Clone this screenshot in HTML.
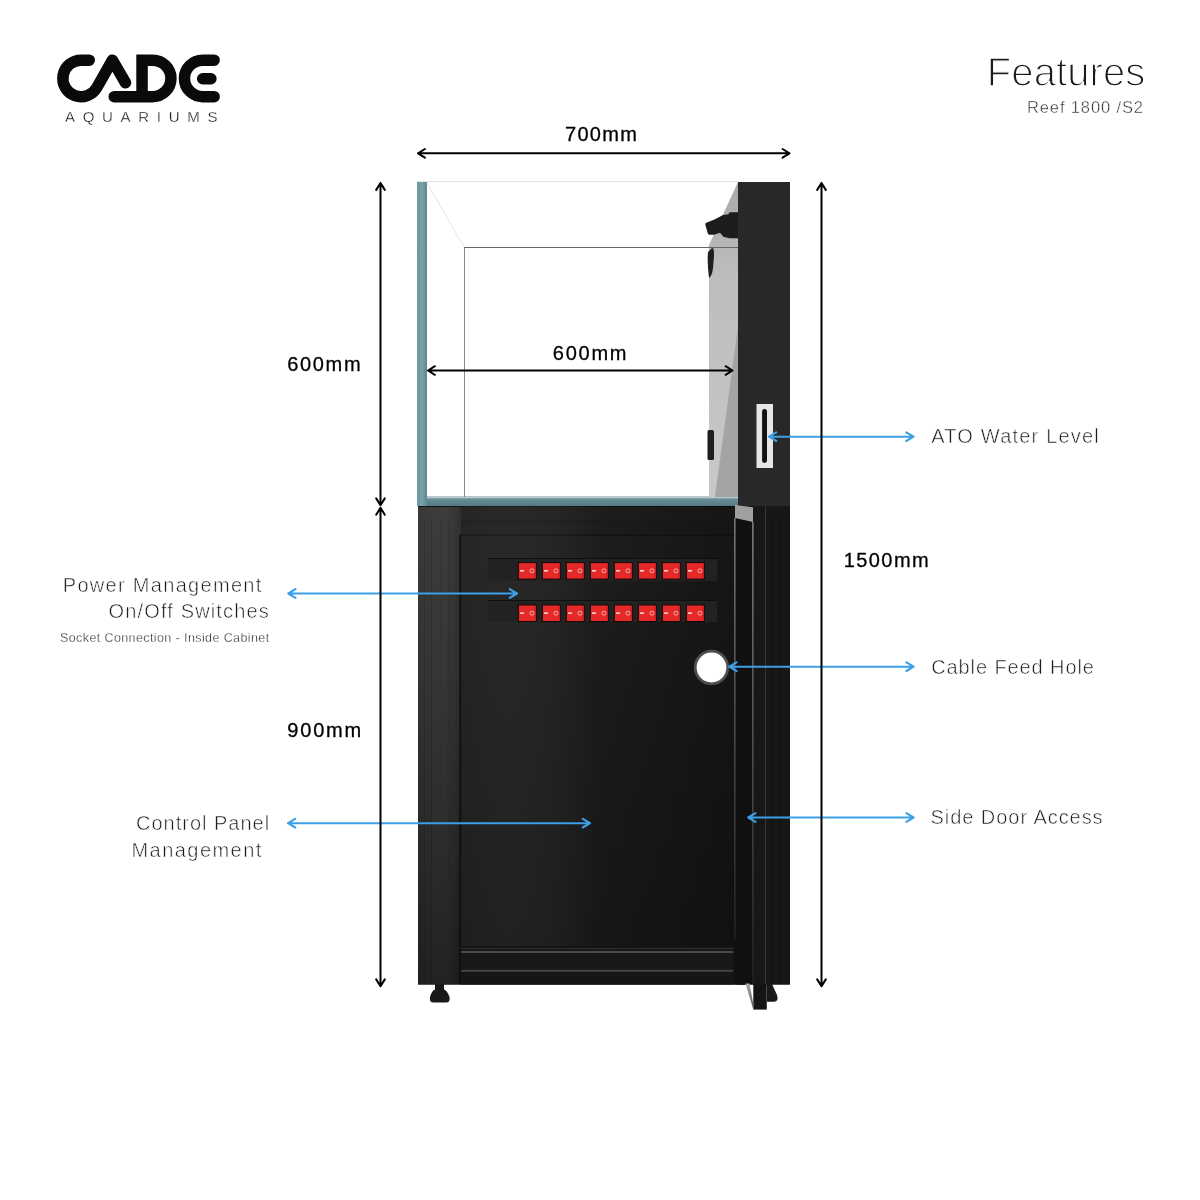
<!DOCTYPE html>
<html>
<head>
<meta charset="utf-8">
<style>
html,body{margin:0;padding:0;background:#fff;width:1200px;height:1200px;overflow:hidden;}
svg{position:absolute;left:0;top:0;display:block;will-change:transform;}
text{font-family:"Liberation Sans",sans-serif;}
</style>
</head>
<body>
<svg width="1200" height="1200" viewBox="0 0 1200 1200">
<defs>
  <linearGradient id="postL" x1="0" y1="0" x2="0" y2="1">
    <stop offset="0" stop-color="#353535"/>
    <stop offset="0.35" stop-color="#2e2e2e"/>
    <stop offset="0.7" stop-color="#242424"/>
    <stop offset="1" stop-color="#1a1a1a"/>
  </linearGradient>
  <linearGradient id="postLh" x1="0" y1="0" x2="1" y2="0">
    <stop offset="0" stop-color="#fff" stop-opacity="0.02"/>
    <stop offset="0.5" stop-color="#fff" stop-opacity="0.04"/>
    <stop offset="1" stop-color="#000" stop-opacity="0.1"/>
  </linearGradient>
  <linearGradient id="teal" x1="0" y1="0" x2="1" y2="0">
    <stop offset="0" stop-color="#6f98a2"/>
    <stop offset="0.5" stop-color="#77a0a9"/>
    <stop offset="1" stop-color="#5e8691"/>
  </linearGradient>
  <linearGradient id="wall" x1="0" y1="0" x2="0" y2="1">
    <stop offset="0" stop-color="#a9a9a9"/>
    <stop offset="0.3" stop-color="#bdbdbd"/>
    <stop offset="1" stop-color="#c8c8c8"/>
  </linearGradient>
  <linearGradient id="postR" x1="0" y1="0" x2="0" y2="1">
    <stop offset="0" stop-color="#1a1a1a"/>
    <stop offset="1" stop-color="#151515"/>
  </linearGradient>
  <linearGradient id="postGroove" x1="0" y1="0" x2="1" y2="0">
    <stop offset="0" stop-color="#3a3a3a"/>
    <stop offset="0.5" stop-color="#444"/>
    <stop offset="1" stop-color="#2a2a2a"/>
  </linearGradient>
  <linearGradient id="lineA" x1="0" y1="0" x2="0" y2="1">
    <stop offset="0" stop-color="#8a8a8a"/>
    <stop offset="0.5" stop-color="#555"/>
    <stop offset="1" stop-color="#262626"/>
  </linearGradient>
  <linearGradient id="lineB" x1="0" y1="0" x2="0" y2="1">
    <stop offset="0" stop-color="#909090"/>
    <stop offset="0.5" stop-color="#5a5a5a"/>
    <stop offset="1" stop-color="#222"/>
  </linearGradient>
  <linearGradient id="wedge" x1="0" y1="0" x2="0" y2="1">
    <stop offset="0" stop-color="#aaa"/>
    <stop offset="1" stop-color="#555"/>
  </linearGradient>
  <linearGradient id="tealB" x1="0" y1="0" x2="0" y2="1">
    <stop offset="0" stop-color="#6f949d"/>
    <stop offset="1" stop-color="#557a84"/>
  </linearGradient>
  <linearGradient id="back" x1="0" y1="0" x2="0" y2="1">
    <stop offset="0" stop-color="#212121"/>
    <stop offset="0.5" stop-color="#1d1d1d"/>
    <stop offset="1" stop-color="#191919"/>
  </linearGradient>
  <linearGradient id="backh" x1="0" y1="0" x2="1" y2="0">
    <stop offset="0" stop-color="#fff" stop-opacity="0.02"/>
    <stop offset="0.5" stop-color="#000" stop-opacity="0.12"/>
    <stop offset="1" stop-color="#000" stop-opacity="0.35"/>
  </linearGradient>
</defs>

<!-- ===== LOGO ===== -->
<g fill="none" stroke="#0a0a0a" stroke-width="11.5" stroke-linecap="round" stroke-linejoin="round">
  <path d="M89.25 60.15 H81.1 A18.25 18.25 0 1 0 96.9 87.5 L112.4 60.15 L125.5 82.75"/>
  <path d="M114.25 96.65 H152.7 A18.25 18.25 0 0 0 152.7 60.15 H142.05 V96.65" stroke-linejoin="miter"/>
  <path d="M214.15 60.15 H202.7 A18.25 18.25 0 0 0 202.7 96.65 H214.15"/>
  <path d="M202.7 78.8 H210.9"/>
</g>
<text x="65" y="122" font-size="15" fill="#111" stroke="#fff" stroke-width="0.3" letter-spacing="7.7">AQUARIUMS</text>

<!-- ===== TITLE ===== -->
<text x="986.8" y="85.7" font-size="40" fill="#1a1a1a" stroke="#fff" stroke-width="1.4" letter-spacing="0.1">Features</text>
<text x="1027" y="113" font-size="16.5" fill="#333" stroke="#fff" stroke-width="0.4" letter-spacing="0.87">Reef 1800 /S2</text>

<!-- ===== TANK ===== -->
<g id="tank">
  <line x1="417" y1="181.5" x2="738" y2="181.5" stroke="#e2e2e2" stroke-width="1"/>
  <rect x="417" y="182" width="10" height="324" fill="url(#teal)"/>
  <rect x="427" y="496.5" width="311" height="9.5" fill="url(#tealB)"/>
  <rect x="427" y="496.5" width="311" height="1.8" fill="#b9c9cd"/>
  <line x1="427" y1="183" x2="464" y2="247" stroke="#e4e4e4" stroke-width="1"/>
  <line x1="464.5" y1="247" x2="464.5" y2="497" stroke="#8a8a8a" stroke-width="1"/>
  <polygon points="738,182 709,245 709,497 738,497" fill="url(#wall)"/>
  <polygon points="738,326 738,497 715,497" fill="#a4a4a4"/>
  <line x1="464" y1="247.5" x2="738" y2="247.5" stroke="#606a6a" stroke-width="1"/>
  <!-- pump -->
  <path d="M738 212.3 L729.5 212.3 L728.5 214.3 L723 215 L715 219.3 L705.8 223 Q705 224 705.5 225.5 L708 234 Q708.5 235 710 234.8 L714 234.7 L720 232.7 L723.3 236.7 L729.3 238.3 L738 238.3 Z" fill="#1d1d1d"/>
  <path d="M712 248 Q715 247 713.5 262 Q713 276 709 278 Q707 262 708 252 Z" fill="#1e1e1e"/>
  <rect x="707.5" y="430" width="6.5" height="30" rx="1.5" fill="#1e1e1e"/>
  <rect x="738" y="182" width="52" height="324" fill="#282828"/>
  <!-- ATO -->
  <rect x="756.5" y="404" width="16.5" height="64" fill="#e6e6ea"/>
  <rect x="762.1" y="409" width="4.9" height="54" rx="2.4" fill="#111"/>
</g>
<!-- ===== CABINET ===== -->
<g id="cab">
  <rect x="418" y="506" width="372" height="478.5" fill="#161616"/>
  <!-- left post -->
  <rect x="418" y="506" width="43" height="478.5" fill="url(#postL)"/>
  <rect x="418" y="506" width="43" height="478.5" fill="url(#postLh)"/>
  <g stroke="#000" stroke-width="1" opacity="0.12">
    <line x1="424.5" y1="520" x2="424.5" y2="984"/>
    <line x1="431.5" y1="520" x2="431.5" y2="984"/>
    <line x1="441.5" y1="520" x2="441.5" y2="984"/>
    <line x1="449.5" y1="520" x2="449.5" y2="984"/>
  </g>
  <line x1="460.5" y1="535" x2="460.5" y2="984" stroke="#0c0c0c" stroke-width="2"/>
  <!-- top rails -->
  <rect x="461" y="506" width="274" height="14" fill="#212121"/>
  <line x1="418" y1="506.5" x2="735" y2="506.5" stroke="#151515" stroke-width="1"/>
  <rect x="461" y="520" width="274" height="15" fill="#202020"/>
  <line x1="461" y1="520.5" x2="735" y2="520.5" stroke="#1b1b1b" stroke-width="1"/>
  <line x1="461" y1="535" x2="735" y2="535" stroke="#171717" stroke-width="1.5"/>
  <rect x="461" y="506" width="274" height="30" fill="url(#backh)"/>
  <!-- back -->
  <rect x="461" y="536" width="274" height="412" fill="url(#back)"/>
  <rect x="461" y="536" width="274" height="412" fill="url(#backh)"/>
  <!-- bottom rails -->
  <rect x="461" y="946" width="284" height="38.5" fill="#141414"/>
  <rect x="461" y="948" width="272" height="1.2" fill="#2e2e2e"/>
  <rect x="461" y="951" width="272" height="2" fill="#4a4a4a"/>
  <rect x="461" y="953" width="272" height="17" fill="#181818"/>
  <rect x="461" y="969.8" width="272" height="2" fill="#444"/>
  <rect x="461" y="972" width="272" height="12.5" fill="#151515"/>
  <polygon points="729,928 735,928 745,945 745,984.5 738,984.5 738,945" fill="#111"/>
  <!-- right side: door -->
  <rect x="735" y="506" width="31" height="478.5" fill="#101010"/>
  <rect x="753" y="506" width="12.6" height="478.5" fill="#171717"/>
  <polygon points="735,505 753,507.3 753,522 735,518" fill="#a0a0a0"/>
  <rect x="734.2" y="518" width="1.3" height="422" fill="url(#lineA)"/>
  <rect x="752.2" y="522" width="1.3" height="462" fill="url(#lineB)"/>
  <line x1="765.6" y1="506" x2="765.6" y2="1009" stroke="#363636" stroke-width="1.4"/>
  <!-- right post -->
  <rect x="766.3" y="506" width="23.7" height="478.5" fill="#171717"/>
  <g stroke="#0c0c0c" stroke-width="1" opacity="0.6">
    <line x1="772.5" y1="523" x2="772.5" y2="984"/>
    <line x1="779.5" y1="523" x2="779.5" y2="984"/>
  </g>
  <!-- door bottom -->
  <rect x="753.3" y="984" width="13.4" height="25.6" fill="#141414"/>
  <polygon points="745.5,983.5 749.5,983.5 753.3,1004 753.3,1009.6" fill="url(#wedge)"/>
  <!-- feet -->
  <path d="M435 984 H444 V989.5 Q447 990 449.5 997 Q450.5 1002.5 446 1002.5 H433.5 Q429 1002.5 430 997 Q432 990 435 989.5 Z" fill="#191919"/>
  <path d="M767 984 H772 L777 995 Q779 1001.7 774 1001.7 H767 Z" fill="#191919"/>
  <!-- switch strips -->
  <rect x="488" y="558" width="229" height="23" fill="#222"/>
  <line x1="488" y1="558.5" x2="717" y2="558.5" stroke="#0e0e0e" stroke-width="1"/>
  <rect x="488" y="600" width="229" height="22" fill="#222"/>
  <line x1="488" y1="600.5" x2="717" y2="600.5" stroke="#0e0e0e" stroke-width="1"/>
  <rect x="518.3" y="562.6" width="18" height="16.5" fill="#e62828" stroke="#160606" stroke-width="1"/>
  <rect x="520.1" y="570.0" width="3.8" height="1.5" fill="#fff" opacity="0.9"/>
  <circle cx="531.9" cy="570.8000000000001" r="2" fill="none" stroke="#fff" stroke-width="0.7" opacity="0.8"/>
  <rect x="542.3" y="562.6" width="18" height="16.5" fill="#e62828" stroke="#160606" stroke-width="1"/>
  <rect x="544.1" y="570.0" width="3.8" height="1.5" fill="#fff" opacity="0.9"/>
  <circle cx="555.9" cy="570.8000000000001" r="2" fill="none" stroke="#fff" stroke-width="0.7" opacity="0.8"/>
  <rect x="566.3" y="562.6" width="18" height="16.5" fill="#e62828" stroke="#160606" stroke-width="1"/>
  <rect x="568.1" y="570.0" width="3.8" height="1.5" fill="#fff" opacity="0.9"/>
  <circle cx="579.9" cy="570.8000000000001" r="2" fill="none" stroke="#fff" stroke-width="0.7" opacity="0.8"/>
  <rect x="590.3" y="562.6" width="18" height="16.5" fill="#e62828" stroke="#160606" stroke-width="1"/>
  <rect x="592.1" y="570.0" width="3.8" height="1.5" fill="#fff" opacity="0.9"/>
  <circle cx="603.9" cy="570.8000000000001" r="2" fill="none" stroke="#fff" stroke-width="0.7" opacity="0.8"/>
  <rect x="614.3" y="562.6" width="18" height="16.5" fill="#e62828" stroke="#160606" stroke-width="1"/>
  <rect x="616.1" y="570.0" width="3.8" height="1.5" fill="#fff" opacity="0.9"/>
  <circle cx="627.9" cy="570.8000000000001" r="2" fill="none" stroke="#fff" stroke-width="0.7" opacity="0.8"/>
  <rect x="638.3" y="562.6" width="18" height="16.5" fill="#e62828" stroke="#160606" stroke-width="1"/>
  <rect x="640.1" y="570.0" width="3.8" height="1.5" fill="#fff" opacity="0.9"/>
  <circle cx="651.9" cy="570.8000000000001" r="2" fill="none" stroke="#fff" stroke-width="0.7" opacity="0.8"/>
  <rect x="662.3" y="562.6" width="18" height="16.5" fill="#e62828" stroke="#160606" stroke-width="1"/>
  <rect x="664.1" y="570.0" width="3.8" height="1.5" fill="#fff" opacity="0.9"/>
  <circle cx="675.9" cy="570.8000000000001" r="2" fill="none" stroke="#fff" stroke-width="0.7" opacity="0.8"/>
  <rect x="686.3" y="562.6" width="18" height="16.5" fill="#e62828" stroke="#160606" stroke-width="1"/>
  <rect x="688.1" y="570.0" width="3.8" height="1.5" fill="#fff" opacity="0.9"/>
  <circle cx="699.9" cy="570.8000000000001" r="2" fill="none" stroke="#fff" stroke-width="0.7" opacity="0.8"/>
  <rect x="518.3" y="605" width="18" height="16.5" fill="#e62828" stroke="#160606" stroke-width="1"/>
  <rect x="520.1" y="612.4" width="3.8" height="1.5" fill="#fff" opacity="0.9"/>
  <circle cx="531.9" cy="613.2" r="2" fill="none" stroke="#fff" stroke-width="0.7" opacity="0.8"/>
  <rect x="542.3" y="605" width="18" height="16.5" fill="#e62828" stroke="#160606" stroke-width="1"/>
  <rect x="544.1" y="612.4" width="3.8" height="1.5" fill="#fff" opacity="0.9"/>
  <circle cx="555.9" cy="613.2" r="2" fill="none" stroke="#fff" stroke-width="0.7" opacity="0.8"/>
  <rect x="566.3" y="605" width="18" height="16.5" fill="#e62828" stroke="#160606" stroke-width="1"/>
  <rect x="568.1" y="612.4" width="3.8" height="1.5" fill="#fff" opacity="0.9"/>
  <circle cx="579.9" cy="613.2" r="2" fill="none" stroke="#fff" stroke-width="0.7" opacity="0.8"/>
  <rect x="590.3" y="605" width="18" height="16.5" fill="#e62828" stroke="#160606" stroke-width="1"/>
  <rect x="592.1" y="612.4" width="3.8" height="1.5" fill="#fff" opacity="0.9"/>
  <circle cx="603.9" cy="613.2" r="2" fill="none" stroke="#fff" stroke-width="0.7" opacity="0.8"/>
  <rect x="614.3" y="605" width="18" height="16.5" fill="#e62828" stroke="#160606" stroke-width="1"/>
  <rect x="616.1" y="612.4" width="3.8" height="1.5" fill="#fff" opacity="0.9"/>
  <circle cx="627.9" cy="613.2" r="2" fill="none" stroke="#fff" stroke-width="0.7" opacity="0.8"/>
  <rect x="638.3" y="605" width="18" height="16.5" fill="#e62828" stroke="#160606" stroke-width="1"/>
  <rect x="640.1" y="612.4" width="3.8" height="1.5" fill="#fff" opacity="0.9"/>
  <circle cx="651.9" cy="613.2" r="2" fill="none" stroke="#fff" stroke-width="0.7" opacity="0.8"/>
  <rect x="662.3" y="605" width="18" height="16.5" fill="#e62828" stroke="#160606" stroke-width="1"/>
  <rect x="664.1" y="612.4" width="3.8" height="1.5" fill="#fff" opacity="0.9"/>
  <circle cx="675.9" cy="613.2" r="2" fill="none" stroke="#fff" stroke-width="0.7" opacity="0.8"/>
  <rect x="686.3" y="605" width="18" height="16.5" fill="#e62828" stroke="#160606" stroke-width="1"/>
  <rect x="688.1" y="612.4" width="3.8" height="1.5" fill="#fff" opacity="0.9"/>
  <circle cx="699.9" cy="613.2" r="2" fill="none" stroke="#fff" stroke-width="0.7" opacity="0.8"/>
  <!-- cable hole -->
  <circle cx="711.5" cy="667.5" r="16.3" fill="#fff" stroke="#4e4e4e" stroke-width="2.8"/>
</g>
<!-- ===== BLUE ARROWS ===== -->
<path d="M769 436.7 H913.5 M776.2 432.4 L769 436.7 L776.2 441.0 M906.3 432.4 L913.5 436.7 L906.3 441.0 M288.3 593.5 H517 M295.5 589.2 L288.3 593.5 L295.5 597.8 M509.8 589.2 L517 593.5 L509.8 597.8 M729.3 666.7 H913.6 M736.5 662.4000000000001 L729.3 666.7 L736.5 671.0 M906.4 662.4000000000001 L913.6 666.7 L906.4 671.0 M288 823.2 H590 M295.2 818.9000000000001 L288 823.2 L295.2 827.5 M582.8 818.9000000000001 L590 823.2 L582.8 827.5 M748.3 817.5 H913.6 M755.5 813.2 L748.3 817.5 L755.5 821.8 M906.4 813.2 L913.6 817.5 L906.4 821.8" stroke="#3d9fe6" stroke-width="2.1" fill="none" stroke-linecap="round" stroke-linejoin="round"/>
<!-- ===== DIMENSION ARROWS ===== -->
<g stroke="#000" stroke-width="2" fill="none" stroke-linecap="round" stroke-linejoin="round">
  <path d="M418 153.3 H789.5 M424.9 149.0 L418 153.3 L424.9 157.60000000000002 M782.6 149.0 L789.5 153.3 L782.6 157.60000000000002"/>
  <path d="M428 370.5 H732.5 M434.9 366.2 L428 370.5 L434.9 374.8 M725.6 366.2 L732.5 370.5 L725.6 374.8"/>
  <path d="M380.5 183 V505.3 M376.2 189.9 L380.5 183 L384.8 189.9 M376.2 498.40000000000003 L380.5 505.3 L384.8 498.40000000000003"/>
  <path d="M380.5 507.8 V986.3 M376.2 514.7 L380.5 507.8 L384.8 514.7 M376.2 979.4 L380.5 986.3 L384.8 979.4"/>
  <path d="M821.5 183 V986.3 M817.2 189.9 L821.5 183 L825.8 189.9 M817.2 979.4 L821.5 986.3 L825.8 979.4"/>
</g>
<text x="565" y="140.8" font-size="20" fill="#000" stroke="#000" stroke-width="0.3" letter-spacing="1.3">700mm</text>
<text x="552.8" y="360" font-size="20" fill="#000" stroke="#000" stroke-width="0.3" letter-spacing="1.75">600mm</text>
<text x="287.3" y="371" font-size="20" fill="#000" stroke="#000" stroke-width="0.3" letter-spacing="1.65">600mm</text>
<text x="287.3" y="737.3" font-size="20" fill="#000" stroke="#000" stroke-width="0.3" letter-spacing="1.8">900mm</text>
<text x="843.8" y="566.8" font-size="20" fill="#000" stroke="#000" stroke-width="0.3" letter-spacing="1.4">1500mm</text>

<!-- ===== LABELS ===== -->
<g font-size="20" fill="#1c1c1c" stroke="#fff" stroke-width="0.55">
  <text x="62.8" y="592" letter-spacing="1.3">Power Management</text>
  <text x="108.5" y="618" letter-spacing="1.15">On/Off Switches</text>
  <text x="136" y="830" letter-spacing="1.0">Control Panel</text>
  <text x="131.5" y="857" letter-spacing="1.45">Management</text>
  <text x="931.2" y="443.4" letter-spacing="1.2">ATO Water Level</text>
  <text x="931.2" y="674" letter-spacing="0.9">Cable Feed Hole</text>
  <text x="930.5" y="824" letter-spacing="0.95">Side Door Access</text>
</g>
<text x="60" y="642" font-size="12.5" fill="#222" stroke="#fff" stroke-width="0.3" letter-spacing="0.4">Socket Connection - Inside Cabinet</text>

</svg>
</body>
</html>
